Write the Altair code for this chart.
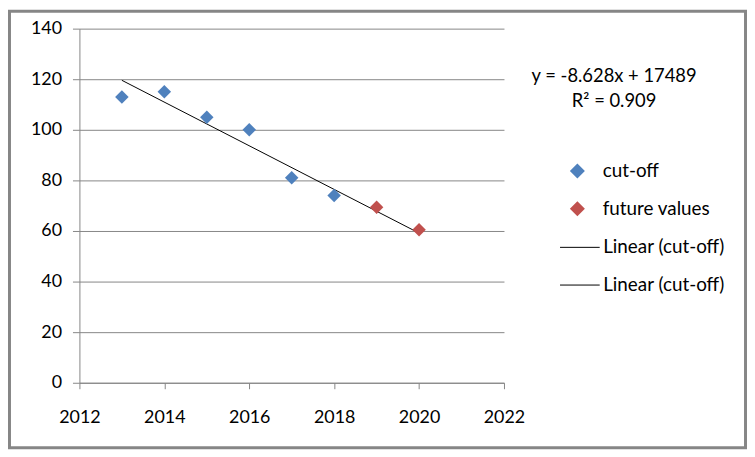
import altair as alt
import pandas as pd

years_cut = [2013, 2014, 2015, 2016, 2017, 2018]
values_cut = [113, 115, 105, 100, 81, 74]
years_future = [2019, 2020]
values_future = [69.4, 60.5]

point_series = ["cut-off", "future values"]
point_colors = ["#4F81BD", "#C0504D"]
line_series = ["Linear (cut-off)", "Linear (cut-off) "]
line_colors = ["#000000", "#000000"]

eq_lines = ["y = -8.628x + 17489", "R² = 0.909"]

FONT = "Lato"
GRID = "#868686"

pts = pd.DataFrame({
    "year": years_cut + years_future,
    "value": values_cut + values_future,
    "series": [point_series[0]] * len(years_cut) + [point_series[1]] * len(years_future),
})
cut = pts[pts["series"] == point_series[0]].copy()

W, H = 428, 357
PL, PT = 72, 19
TOTW, TOTH = 745, 443

xscale = alt.Scale(domain=[2012, 2022], nice=False, zero=False)
yscale = alt.Scale(domain=[0, 140], nice=False)

points = alt.Chart(pts).mark_point(filled=True, shape="diamond", strokeWidth=0, opacity=1,
                                   size=185).encode(
    x=alt.X("year:Q", scale=xscale,
            axis=alt.Axis(title=None, values=[2012, 2014, 2016, 2018, 2020, 2022], format="d",
                          grid=False, domainColor=GRID, tickColor=GRID, tickSize=6,
                          labelPadding=20, labelFontSize=18, labelFont=FONT, labelColor="black",
                          labelFlush=False)),
    y=alt.Y("value:Q", scale=yscale,
            axis=alt.Axis(title=None, values=[0, 20, 40, 60, 80, 100, 120, 140],
                          grid=True, gridColor=GRID, gridOpacity=1, domainColor=GRID,
                          tickColor=GRID, tickSize=7, labelPadding=11, labelFontSize=18,
                          labelFont=FONT, labelColor="black")),
    fill=alt.Fill("series:N", scale=alt.Scale(domain=point_series, range=point_colors),
                  legend=alt.Legend(title=None, orient="none", legendX=492.5, legendY=134,
                                    symbolType="diamond", symbolSize=230, symbolStrokeWidth=0,
                                    labelFont=FONT, labelFontSize=19, labelColor="black",
                                    labelOffset=16, rowPadding=18)),
)

trend = alt.Chart(cut).transform_regression(
    "year", "value", extent=[2013, 2020]
).transform_calculate(
    series="'" + line_series[0] + "'"
).mark_line(strokeWidth=1).encode(
    x=alt.X("year:Q", scale=xscale),
    y=alt.Y("value:Q", scale=yscale),
    stroke=alt.Stroke("series:N", scale=alt.Scale(domain=line_series, range=line_colors),
                      legend=alt.Legend(title=None, orient="none", legendX=484, legendY=200,
                                        symbolType="stroke", symbolSize=1600,
                                        symbolStrokeWidth=1, symbolStrokeColor="black",
                                        labelFont=FONT, labelFontSize=19, labelColor="black",
                                        labelOffset=3, rowPadding=7)),
)

eq0 = alt.Chart(pd.DataFrame({"txt": [eq_lines[0]]})).mark_text(
    font=FONT, fontSize=18.5, color="black", align="center", baseline="middle"
).encode(text="txt:N", x=alt.value(539), y=alt.value(48))
eq1 = alt.Chart(pd.DataFrame({"txt": [eq_lines[1]]})).mark_text(
    font=FONT, fontSize=18.5, color="black", align="center", baseline="middle"
).encode(text="txt:N", x=alt.value(539), y=alt.value(73))

border = alt.Chart(pd.DataFrame({"a": [0]})).mark_rect(
    filled=False, stroke="#868686", strokeWidth=3, clip=False
).encode(
    x=alt.value(-PL + 1.5), x2=alt.value(TOTW - PL - 1.5),
    y=alt.value(-PT + 1.5), y2=alt.value(TOTH - PT - 1.5),
)

chart = alt.layer(border, trend, points, eq0, eq1).properties(
    width=W, height=H,
    autosize=alt.AutoSizeParams(type="none"),
    padding={"left": PL, "top": PT, "right": TOTW - PL - W, "bottom": TOTH - PT - H},
    background="white",
).configure_view(stroke=None)

chart.save("out.html", embed_options={"renderer": "svg", "actions": False})
